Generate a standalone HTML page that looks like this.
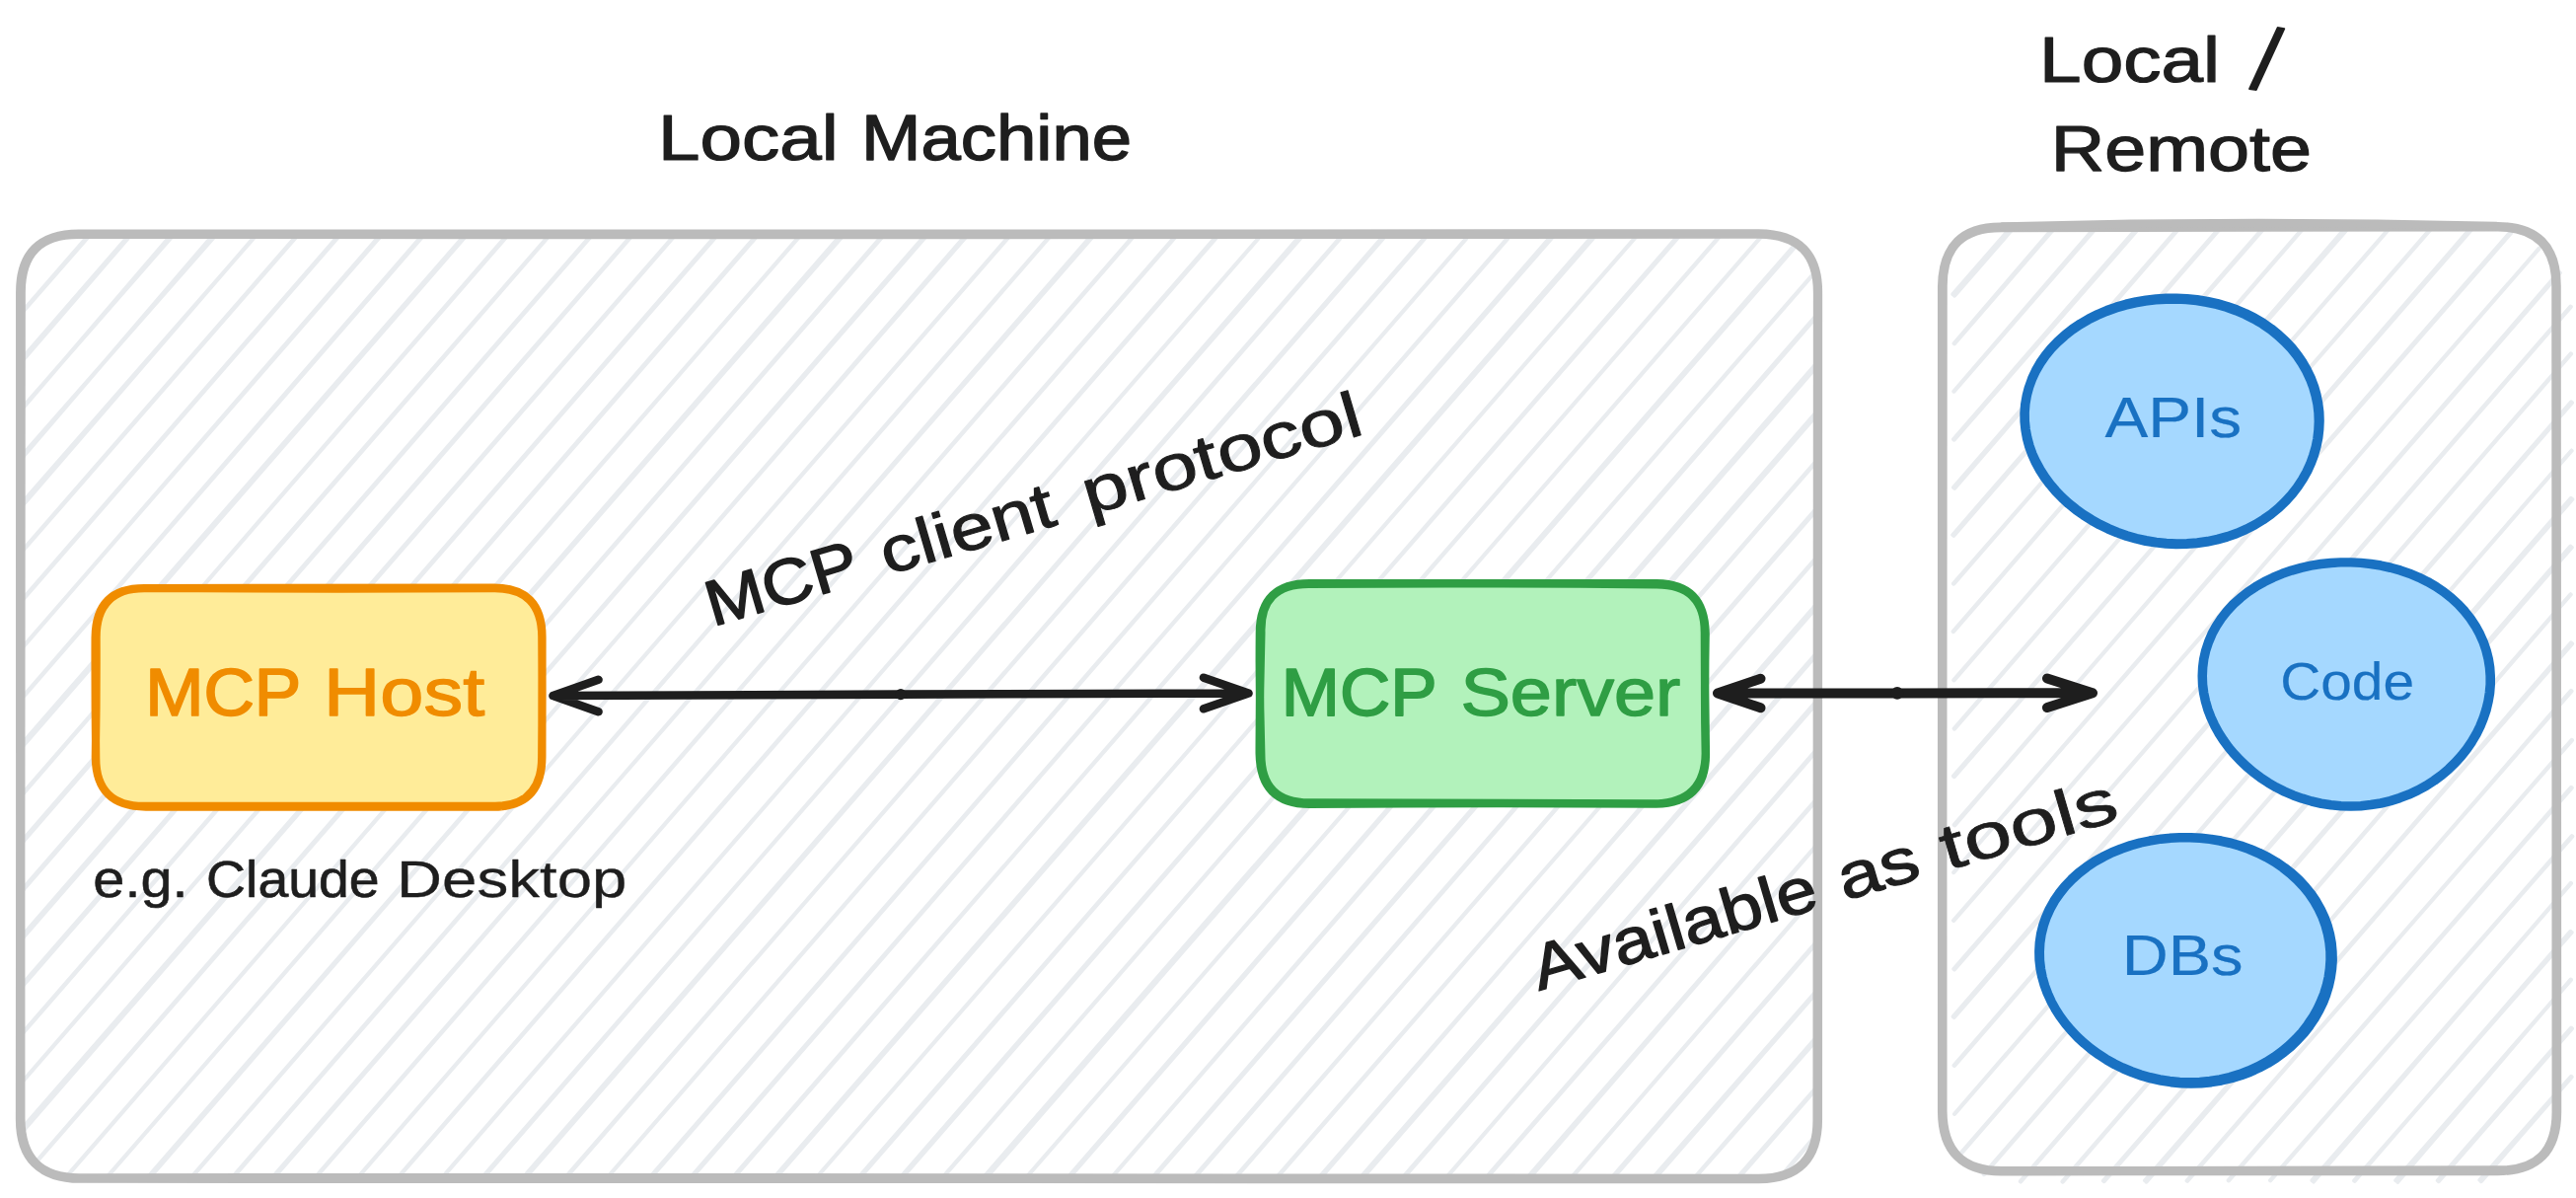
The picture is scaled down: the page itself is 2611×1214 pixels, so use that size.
<!DOCTYPE html><html><head><meta charset="utf-8"><title>MCP diagram</title>
<style>html,body{margin:0;padding:0;background:#fff}svg{display:block}text{font-family:"Liberation Sans",sans-serif;stroke-linejoin:round}</style></head><body>
<svg width="2611" height="1214" viewBox="0 0 2611 1214">
<rect width="100%" height="100%" fill="#fff"/>
<defs>
<clipPath id="cl"><path d="M81.0 237.0H1782.5Q1842.5 237.0 1842.5 297.0V1134.0Q1842.5 1194.0 1782.5 1194.0H81.0Q21.0 1194.0 21.0 1134.0V297.0Q21.0 237.0 81.0 237.0Z"/></clipPath>
<clipPath id="cr"><path d="M2039.0 233.0H2547.0Q2607.0 233.0 2607.0 293.0V1138.0Q2607.0 1198.0 2547.0 1198.0H2039.0Q1979.0 1198.0 1979.0 1138.0V293.0Q1979.0 233.0 2039.0 233.0Z"/></clipPath>
</defs>
<path d="M7.2 283.4L62.6 222.5 M8.4 284.5L61.4 221.5 M7.9 332.8L104.2 221.8 M8.2 333.1L104.9 222.4 M7.1 380.9L145.8 221.1 M8.5 382.2L146.6 221.8 M8.4 430.8L188.1 221.1 M7.8 430.3L189.6 222.3 M7.3 478.7L232.4 222.7 M8.7 479.9L230.6 221.1 M6.9 527.1L274.0 222.0 M8.7 528.7L273.7 221.7 M7.3 576.2L316.2 221.8 M7.0 575.9L315.8 221.4 M7.8 625.4L358.7 221.9 M7.4 625.0L358.2 221.4 M7.3 673.8L401.0 221.8 M7.5 673.9L400.2 221.1 M8.5 723.6L443.6 222.0 M8.2 723.3L442.9 221.4 M8.8 772.7L486.6 222.5 M7.1 771.2L485.6 221.6 M8.3 821.0L528.7 222.3 M8.7 821.3L528.2 221.8 M8.5 869.9L571.1 222.2 M7.5 869.0L570.9 222.1 M8.6 918.8L613.8 222.5 M7.9 918.2L613.3 222.1 M7.0 966.1L655.0 221.5 M8.5 967.4L655.4 221.8 M7.2 1015.2L698.0 222.0 M8.3 1016.1L698.3 222.2 M7.6 1064.3L740.2 221.8 M7.9 1064.5L740.9 222.4 M7.9 1113.3L782.5 221.7 M7.9 1113.2L781.8 221.1 M7.0 1161.3L825.5 222.3 M8.8 1162.9L825.3 222.1 M9.2 1208.9L866.9 221.3 M9.4 1209.1L868.5 222.7 M52.3 1209.6L910.0 222.0 M52.5 1209.7L909.4 221.4 M94.2 1209.1L953.2 222.7 M94.3 1209.2L952.2 221.8 M136.1 1208.7L994.8 222.0 M137.5 1209.9L993.8 221.1 M179.5 1209.6L1037.8 222.5 M179.7 1209.8L1037.6 222.3 M222.0 1209.6L1079.6 221.9 M221.5 1209.2L1079.4 221.8 M262.9 1208.3L1122.7 222.5 M263.9 1209.2L1121.3 221.4 M306.2 1209.1L1164.3 221.9 M305.9 1208.8L1164.0 221.6 M348.7 1209.2L1207.0 222.1 M348.8 1209.3L1206.6 221.8 M390.1 1208.3L1248.6 221.4 M390.3 1208.5L1249.3 222.0 M434.1 1209.7L1292.1 222.4 M434.0 1209.6L1292.1 222.4 M475.3 1208.7L1334.6 222.5 M476.1 1209.4L1333.1 221.2 M517.2 1208.3L1375.4 221.1 M518.7 1209.5L1375.8 221.5 M559.8 1208.4L1419.0 222.1 M560.3 1208.8L1417.9 221.2 M602.3 1208.5L1461.2 222.0 M602.3 1208.5L1460.7 221.5 M645.8 1209.5L1503.4 221.8 M645.0 1208.8L1503.5 221.9 M686.8 1208.3L1545.7 221.7 M687.6 1209.0L1545.3 221.4 M729.4 1208.4L1589.1 222.6 M730.2 1209.1L1587.8 221.4 M772.8 1209.3L1631.4 222.4 M771.6 1208.3L1629.8 221.1 M814.3 1208.5L1673.6 222.3 M814.3 1208.5L1673.5 222.3 M857.7 1209.4L1715.6 222.0 M856.8 1208.6L1716.5 222.7 M900.4 1209.6L1758.0 221.9 M899.2 1208.6L1758.2 222.2 M942.0 1208.9L1800.5 222.0 M941.8 1208.8L1800.6 222.1 M983.7 1208.3L1842.3 221.6 M985.5 1209.9L1843.5 222.5 M1026.6 1208.8L1856.3 256.5 M1026.6 1208.8L1856.5 256.6 M1069.9 1209.5L1855.5 304.5 M1068.9 1208.7L1854.7 303.8 M1112.5 1209.7L1854.7 352.6 M1112.4 1209.6L1856.5 354.2 M1154.3 1209.2L1855.0 401.6 M1154.9 1209.7L1856.6 403.0 M1197.0 1209.4L1855.6 451.0 M1196.3 1208.9L1855.3 450.7 M1238.4 1208.6L1856.0 500.0 M1238.9 1209.0L1855.0 499.2 M1280.6 1208.4L1855.9 548.8 M1281.0 1208.7L1855.6 548.5 M1323.4 1208.8L1856.4 597.9 M1324.6 1209.8L1854.7 596.5 M1365.6 1208.6L1855.3 645.8 M1367.1 1209.9L1856.2 646.5 M1408.3 1208.8L1855.1 694.4 M1408.9 1209.4L1856.3 695.4 M1451.8 1209.8L1855.3 743.4 M1451.7 1209.7L1856.0 743.9 M1493.4 1209.1L1856.6 793.2 M1492.9 1208.6L1856.1 792.8 M1535.0 1208.4L1855.0 840.6 M1536.6 1209.8L1855.1 840.7 M1578.7 1209.5L1855.8 890.1 M1578.9 1209.7L1855.4 889.7 M1620.3 1208.8L1855.2 938.4 M1621.3 1209.7L1855.8 938.9 M1663.9 1209.9L1856.4 988.2 M1662.3 1208.5L1855.7 987.6 M1704.6 1208.4L1854.7 1035.5 M1704.6 1208.4L1856.3 1036.9 M1748.4 1209.6L1856.3 1085.6 M1747.5 1208.8L1855.8 1085.2 M1790.7 1209.6L1855.4 1133.6 M1790.3 1209.2L1855.1 1133.4" stroke="#e9ecef" stroke-width="4.10" fill="none" stroke-linecap="round" clip-path="url(#cl)"/>
<path d="M80.9 237.1Q932.0 236.5 1783.0 237.0Q1843.1 237.6 1842.5 297.1Q1841.9 715.6 1842.1 1134.0Q1842.7 1194.1 1782.7 1194.4Q931.6 1193.3 80.5 1193.8Q20.6 1193.4 20.5 1134.4Q20.8 715.4 21.2 296.5Q21.0 236.5 80.9 237.1ZM80.9 237.4Q931.7 237.9 1782.5 237.2Q1842.8 236.9 1842.5 297.2Q1842.4 715.5 1842.4 1133.7Q1842.9 1193.9 1783.1 1194.6Q932.3 1195.2 81.4 1194.2Q21.5 1194.4 20.8 1133.7Q20.6 715.1 20.7 296.5Q20.4 236.7 80.9 237.4Z" fill="none" stroke="#bbbbbb" stroke-width="9.3" stroke-linejoin="round" stroke-linecap="round"/>
<path d="M1981.1 299.7L2040.8 231.0 M1979.4 298.2L2039.1 229.5 M1980.9 348.3L2082.7 230.8 M1980.6 348.0L2081.9 230.0 M1980.5 396.7L2125.1 230.3 M1980.4 396.6L2124.2 229.5 M1980.1 445.1L2167.0 230.0 M1980.7 445.6L2168.2 231.0 M1981.1 494.8L2209.6 230.3 M1980.1 493.9L2209.1 229.9 M1979.3 542.0L2250.9 229.6 M1980.2 542.8L2251.5 230.1 M1980.0 591.4L2295.3 230.8 M1980.3 591.6L2294.6 230.2 M1979.7 639.9L2335.9 229.4 M1979.9 640.1L2336.1 229.6 M1980.3 689.2L2380.1 231.1 M1980.6 689.4L2378.5 229.7 M1981.0 738.6L2422.4 230.5 M1980.7 738.3L2422.6 230.7 M1980.8 787.1L2464.7 230.6 M1980.0 786.4L2465.0 230.9 M1981.2 836.3L2505.7 229.6 M1980.7 835.9L2506.8 230.6 M1980.2 884.2L2544.5 235.2 M1980.2 884.2L2545.3 235.9 M1980.3 933.0L2573.6 251.7 M1980.0 932.8L2573.7 251.8 M1981.0 982.5L2593.9 275.7 M1980.4 981.9L2594.8 276.5 M1980.7 1031.0L2605.8 310.9 M1979.7 1030.1L2605.5 310.7 M1980.6 1079.7L2605.8 358.4 M1981.0 1080.0L2606.0 358.6 M1981.1 1128.8L2606.1 407.4 M1981.1 1128.9L2606.9 408.1 M1988.1 1167.9L2606.5 456.6 M1988.4 1168.1L2606.6 456.7 M2010.7 1189.9L2605.9 504.8 M2011.1 1190.2L2607.3 506.0 M2047.8 1197.2L2605.4 553.6 M2048.2 1197.5L2606.7 554.7 M2090.8 1197.7L2605.7 602.5 M2090.5 1197.4L2605.5 602.3 M2132.7 1197.2L2606.0 651.3 M2131.9 1196.5L2607.1 652.3 M2174.0 1196.3L2606.5 700.4 M2175.5 1197.6L2606.0 699.9 M2216.6 1196.5L2607.0 750.1 M2217.0 1196.8L2606.7 749.8 M2258.7 1196.2L2606.1 797.9 M2259.0 1196.4L2606.7 798.4 M2301.2 1196.3L2607.3 847.6 M2301.1 1196.2L2606.9 847.2 M2343.5 1196.2L2606.0 895.1 M2345.0 1197.5L2605.8 894.9 M2386.2 1196.4L2606.6 944.9 M2386.6 1196.8L2605.4 943.8 M2430.2 1197.8L2605.7 992.6 M2428.3 1196.2L2606.0 992.9 M2471.8 1197.2L2606.9 1042.3 M2470.8 1196.3L2606.1 1041.6 M2513.4 1195.8L2606.1 1090.9 M2514.9 1197.1L2606.6 1091.4" stroke="#e9ecef" stroke-width="4.10" fill="none" stroke-linecap="round"/>
<path d="M2029.0 230.2Q2280.3 229.2 2531.7 229.6Q2591.0 230.4 2590.9 289.8Q2591.7 708.4 2591.2 1126.9Q2591.0 1186.7 2531.7 1186.6Q2280.4 1186.7 2029.1 1186.7Q1968.8 1186.4 1968.6 1126.4Q1967.9 708.5 1968.6 290.5Q1969.4 229.4 2029.0 230.2ZM2029.6 230.5Q2280.3 230.5 2531.0 229.9Q2591.4 229.4 2591.1 289.8Q2591.6 707.9 2591.6 1126.1Q2591.8 1187.1 2531.7 1186.0Q2280.2 1185.8 2028.6 1186.9Q1969.6 1186.7 1968.9 1126.4Q1968.6 708.2 1969.1 290.0Q1968.8 229.8 2029.6 230.5Z" fill="none" stroke="#bbbbbb" stroke-width="9.3" stroke-linejoin="round" stroke-linecap="round"/>
<path d="M2030 229.5Q2280 223 2530 229" fill="none" stroke="#bbbbbb" stroke-width="8.5" stroke-linecap="round"/>
<path d="M147.1 595.7H499.7Q549.7 595.7 549.7 645.7V767.3Q549.7 817.3 499.7 817.3H147.1Q97.1 817.3 97.1 767.3V645.7Q97.1 595.7 147.1 595.7Z" fill="#ffec99"/>
<path d="M146.8 596.0Q323.4 597.0 500.0 596.2Q549.0 595.4 549.3 645.3Q549.8 706.1 549.2 766.9Q549.2 817.8 500.0 816.8Q323.6 816.4 147.1 816.9Q97.5 817.7 96.8 767.2Q97.9 706.5 97.6 645.9Q97.6 596.0 146.8 596.0ZM147.1 596.1Q323.4 595.1 499.8 595.6Q549.6 595.2 549.5 645.6Q549.5 706.2 549.4 766.8Q549.3 817.3 500.1 817.7Q324.0 817.1 147.8 817.6Q96.8 817.2 97.2 767.6Q96.4 706.8 96.6 645.9Q97.2 595.6 147.1 596.1Z" fill="none" stroke="#f08c00" stroke-width="8.2" stroke-linejoin="round" stroke-linecap="round"/>
<path d="M1327.5 591.3H1678.4Q1728.4 591.3 1728.4 641.3V764.2Q1728.4 814.2 1678.4 814.2H1327.5Q1277.5 814.2 1277.5 764.2V641.3Q1277.5 591.3 1327.5 591.3Z" fill="#b2f2bb"/>
<path d="M1326.7 591.7Q1502.7 590.8 1678.7 592.2Q1727.9 591.9 1727.9 640.8Q1727.9 702.7 1728.9 764.5Q1728.7 813.5 1678.0 814.6Q1502.6 813.4 1327.3 814.8Q1277.6 814.5 1276.7 763.6Q1276.6 702.3 1278.3 641.0Q1276.8 591.6 1326.7 591.7ZM1328.5 591.1Q1503.9 591.9 1679.4 591.2Q1727.8 591.9 1728.6 642.0Q1727.5 702.7 1728.8 763.4Q1728.4 813.4 1678.6 814.5Q1502.7 814.0 1326.9 813.4Q1278.1 813.4 1278.2 764.2Q1276.3 702.7 1276.9 641.2Q1277.1 590.4 1328.5 591.1Z" fill="none" stroke="#2f9e44" stroke-width="8.4" stroke-linejoin="round" stroke-linecap="round"/>
<path d="M2350.6 426.9L2350.2 435.6L2349.2 444.3L2347.5 452.9L2345.0 461.3L2342.0 469.7L2338.2 477.8L2333.8 485.7L2328.7 493.4L2323.0 500.8L2316.7 507.8L2309.8 514.4L2302.3 520.6L2294.2 526.3L2285.7 531.5L2276.7 536.2L2267.3 540.2L2257.6 543.6L2247.6 546.4L2237.4 548.5L2227.1 550.0L2216.7 550.8L2206.2 551.0L2195.8 550.5L2185.6 549.4L2175.5 547.8L2165.5 545.5L2155.9 542.7L2146.5 539.4L2137.4 535.6L2128.7 531.4L2120.3 526.7L2112.3 521.6L2104.6 516.1L2097.4 510.3L2090.7 504.1L2084.4 497.6L2078.5 490.7L2073.2 483.6L2068.4 476.1L2064.2 468.4L2060.6 460.5L2057.6 452.3L2055.3 444.0L2053.7 435.5L2052.9 426.9L2052.8 418.3L2053.5 409.6L2054.9 401.0L2057.2 392.5L2060.2 384.2L2064.0 376.1L2068.5 368.2L2073.8 360.6L2079.7 353.4L2086.2 346.6L2093.3 340.2L2100.9 334.3L2109.0 328.8L2117.6 323.8L2126.5 319.3L2135.8 315.4L2145.3 312.0L2155.1 309.1L2165.1 306.8L2175.2 305.0L2185.5 303.8L2195.8 303.1L2206.2 303.0L2216.6 303.5L2226.9 304.5L2237.1 306.2L2247.2 308.4L2257.1 311.2L2266.7 314.6L2276.1 318.6L2285.0 323.1L2293.6 328.2L2301.7 333.8L2309.3 339.8L2316.3 346.3L2322.7 353.2L2328.5 360.5L2333.7 368.1L2338.2 376.0L2342.0 384.2L2345.1 392.5L2347.5 401.0L2349.2 409.6L2350.3 418.2Z" fill="#a5d8ff"/>
<path d="M2350.3 427.2L2349.9 435.9L2348.9 444.6L2347.2 453.2L2344.7 461.7L2341.7 470.0L2337.9 478.2L2333.5 486.1L2328.4 493.8L2322.7 501.2L2316.3 508.2L2309.4 514.9L2301.9 521.1L2293.8 526.8L2285.3 532.0L2276.3 536.6L2266.9 540.7L2257.2 544.1L2247.2 546.9L2236.9 549.1L2226.6 550.5L2216.1 551.3L2205.7 551.5L2195.3 551.0L2185.0 549.9L2174.9 548.3L2165.0 546.0L2155.3 543.2L2145.9 539.9L2136.8 536.1L2128.0 531.8L2119.6 527.1L2111.6 522.0L2104.0 516.6L2096.7 510.7L2090.0 504.5L2083.6 498.0L2077.8 491.1L2072.4 484.0L2067.6 476.5L2063.4 468.8L2059.8 460.8L2056.8 452.7L2054.5 444.3L2053.0 435.8L2052.1 427.2L2052.0 418.6L2052.7 409.9L2054.2 401.3L2056.4 392.8L2059.5 384.4L2063.2 376.3L2067.8 368.4L2073.0 360.8L2078.9 353.6L2085.5 346.8L2092.6 340.4L2100.2 334.4L2108.3 328.9L2116.9 323.9L2125.8 319.5L2135.1 315.5L2144.7 312.1L2154.5 309.2L2164.5 306.9L2174.6 305.1L2184.9 303.9L2195.3 303.2L2205.7 303.1L2216.1 303.6L2226.4 304.6L2236.7 306.3L2246.8 308.5L2256.7 311.3L2266.3 314.7L2275.7 318.7L2284.6 323.3L2293.2 328.3L2301.3 333.9L2308.9 340.0L2315.9 346.5L2322.4 353.4L2328.2 360.7L2333.4 368.3L2337.9 376.2L2341.7 384.4L2344.8 392.7L2347.2 401.2L2349.0 409.8L2350.0 418.5ZM2351.1 426.5L2350.7 435.2L2349.7 443.9L2347.9 452.5L2345.5 461.0L2342.4 469.4L2338.7 477.5L2334.2 485.5L2329.1 493.2L2323.4 500.6L2317.1 507.6L2310.1 514.3L2302.6 520.5L2294.5 526.2L2286.0 531.4L2276.9 536.1L2267.5 540.2L2257.8 543.6L2247.7 546.4L2237.5 548.5L2227.1 550.0L2216.7 550.8L2206.2 551.0L2195.8 550.5L2185.5 549.4L2175.3 547.7L2165.4 545.5L2155.7 542.7L2146.3 539.3L2137.2 535.5L2128.4 531.3L2120.0 526.6L2111.9 521.5L2104.3 516.0L2097.0 510.1L2090.2 503.9L2083.9 497.4L2078.0 490.5L2072.7 483.3L2067.9 475.8L2063.7 468.1L2060.0 460.1L2057.1 452.0L2054.8 443.6L2053.2 435.1L2052.3 426.5L2052.2 417.8L2052.9 409.1L2054.4 400.5L2056.7 392.0L2059.7 383.6L2063.5 375.4L2068.0 367.5L2073.3 360.0L2079.2 352.7L2085.7 345.9L2092.9 339.4L2100.5 333.5L2108.7 328.0L2117.2 323.0L2126.2 318.5L2135.5 314.5L2145.1 311.1L2154.9 308.2L2164.9 305.9L2175.1 304.1L2185.4 302.9L2195.8 302.2L2206.2 302.1L2216.6 302.6L2227.0 303.7L2237.2 305.3L2247.4 307.5L2257.3 310.4L2266.9 313.8L2276.3 317.8L2285.3 322.3L2293.9 327.4L2302.0 333.0L2309.6 339.1L2316.7 345.6L2323.1 352.5L2328.9 359.8L2334.1 367.5L2338.6 375.4L2342.5 383.6L2345.6 391.9L2348.0 400.4L2349.7 409.0L2350.8 417.7Z" fill="none" stroke="#1971c2" stroke-width="9.4" stroke-linejoin="round"/>
<path d="M2524.2 694.2L2523.4 702.9L2522.0 711.5L2519.9 720.0L2517.2 728.4L2513.8 736.6L2509.9 744.5L2505.4 752.3L2500.3 759.7L2494.7 766.9L2488.5 773.8L2481.8 780.3L2474.6 786.4L2466.9 792.1L2458.8 797.3L2450.2 802.0L2441.2 806.2L2431.9 809.8L2422.3 812.8L2412.4 815.1L2402.4 816.8L2392.3 817.8L2382.1 818.2L2371.9 817.9L2361.8 816.9L2351.9 815.4L2342.1 813.1L2332.6 810.4L2323.4 807.0L2314.5 803.2L2305.9 798.9L2297.7 794.1L2289.9 788.9L2282.5 783.4L2275.6 777.5L2269.0 771.2L2262.9 764.7L2257.2 757.8L2252.0 750.7L2247.3 743.3L2243.1 735.6L2239.4 727.7L2236.4 719.6L2233.9 711.3L2232.1 702.8L2231.1 694.2L2230.7 685.5L2231.1 676.8L2232.3 668.1L2234.3 659.4L2237.0 650.9L2240.6 642.6L2245.0 634.5L2250.1 626.8L2255.9 619.4L2262.4 612.5L2269.5 606.0L2277.2 600.0L2285.3 594.5L2293.9 589.5L2302.9 585.1L2312.2 581.3L2321.8 578.0L2331.5 575.3L2341.5 573.1L2351.5 571.5L2361.7 570.4L2371.9 569.8L2382.1 569.8L2392.3 570.3L2402.4 571.4L2412.5 573.0L2422.5 575.2L2432.2 577.9L2441.8 581.2L2451.1 585.0L2460.1 589.5L2468.7 594.4L2476.8 599.9L2484.4 606.0L2491.5 612.5L2498.0 619.5L2503.8 626.8L2508.9 634.5L2513.3 642.6L2517.0 650.9L2519.9 659.3L2522.1 668.0L2523.5 676.7L2524.2 685.4Z" fill="#a5d8ff"/>
<path d="M2524.1 693.6L2523.3 702.3L2521.9 710.9L2519.8 719.3L2517.1 727.6L2513.8 735.7L2509.9 743.7L2505.4 751.3L2500.3 758.8L2494.7 765.9L2488.6 772.7L2481.9 779.2L2474.8 785.3L2467.1 790.9L2459.0 796.1L2450.5 800.8L2441.6 805.0L2432.3 808.5L2422.8 811.5L2413.0 813.8L2403.0 815.5L2392.9 816.6L2382.8 816.9L2372.7 816.6L2362.6 815.7L2352.7 814.1L2343.0 811.9L2333.6 809.1L2324.4 805.8L2315.6 802.0L2307.0 797.7L2298.9 793.0L2291.2 787.8L2283.8 782.3L2276.9 776.4L2270.4 770.2L2264.3 763.7L2258.6 756.9L2253.5 749.8L2248.8 742.4L2244.6 734.8L2241.0 727.0L2237.9 718.9L2235.5 710.6L2233.7 702.2L2232.6 693.6L2232.3 685.0L2232.7 676.3L2233.8 667.6L2235.8 659.0L2238.6 650.6L2242.1 642.3L2246.5 634.3L2251.5 626.6L2257.3 619.3L2263.8 612.3L2270.9 605.9L2278.5 599.9L2286.6 594.5L2295.2 589.6L2304.1 585.2L2313.3 581.4L2322.8 578.1L2332.5 575.4L2342.4 573.2L2352.4 571.6L2362.5 570.5L2372.6 569.9L2382.8 569.9L2392.9 570.4L2403.0 571.5L2413.1 573.1L2422.9 575.3L2432.7 578.0L2442.2 581.2L2451.4 585.1L2460.3 589.5L2468.9 594.4L2477.0 599.9L2484.5 605.9L2491.6 612.4L2498.0 619.3L2503.8 626.6L2508.9 634.3L2513.3 642.3L2517.0 650.5L2519.9 659.0L2522.0 667.5L2523.4 676.2L2524.1 684.9ZM2524.3 693.7L2523.6 702.4L2522.1 710.9L2520.1 719.4L2517.3 727.7L2514.0 735.9L2510.1 743.8L2505.6 751.5L2500.6 758.9L2494.9 766.1L2488.8 772.9L2482.1 779.4L2475.0 785.5L2467.3 791.1L2459.2 796.3L2450.7 801.0L2441.7 805.2L2432.4 808.7L2422.9 811.7L2413.1 814.1L2403.1 815.7L2393.0 816.8L2382.8 817.1L2372.7 816.8L2362.7 815.9L2352.8 814.3L2343.1 812.1L2333.6 809.3L2324.4 806.0L2315.5 802.2L2307.0 797.9L2298.9 793.1L2291.1 788.0L2283.8 782.5L2276.8 776.6L2270.3 770.4L2264.2 763.9L2258.6 757.0L2253.4 749.9L2248.7 742.6L2244.5 734.9L2240.9 727.1L2237.8 719.0L2235.4 710.7L2233.6 702.3L2232.5 693.7L2232.2 685.0L2232.6 676.3L2233.7 667.7L2235.7 659.1L2238.5 650.6L2242.0 642.3L2246.4 634.3L2251.5 626.6L2257.3 619.2L2263.7 612.3L2270.8 605.9L2278.4 599.9L2286.6 594.4L2295.1 589.5L2304.1 585.1L2313.3 581.3L2322.8 578.0L2332.5 575.3L2342.4 573.1L2352.4 571.5L2362.5 570.4L2372.7 569.9L2382.9 569.9L2393.0 570.4L2403.1 571.4L2413.2 573.0L2423.1 575.2L2432.8 577.9L2442.3 581.2L2451.6 585.0L2460.5 589.4L2469.0 594.4L2477.1 599.9L2484.7 605.9L2491.8 612.4L2498.2 619.3L2504.0 626.6L2509.1 634.3L2513.5 642.3L2517.2 650.6L2520.1 659.0L2522.3 667.6L2523.7 676.3L2524.3 685.0Z" fill="none" stroke="#1971c2" stroke-width="9.4" stroke-linejoin="round"/>
<path d="M2362.8 972.5L2362.2 981.2L2361.0 989.8L2359.0 998.4L2356.5 1006.8L2353.2 1015.0L2349.4 1023.1L2344.9 1030.9L2339.8 1038.4L2334.1 1045.7L2327.9 1052.6L2321.1 1059.2L2313.8 1065.3L2306.0 1071.0L2297.7 1076.2L2289.0 1080.9L2279.9 1085.0L2270.4 1088.5L2260.7 1091.5L2250.8 1093.7L2240.6 1095.4L2230.4 1096.4L2220.2 1096.7L2209.9 1096.4L2199.8 1095.4L2189.7 1093.8L2179.9 1091.7L2170.3 1088.9L2161.0 1085.7L2152.0 1081.9L2143.3 1077.6L2135.0 1072.9L2127.0 1067.8L2119.5 1062.3L2112.4 1056.4L2105.7 1050.1L2099.4 1043.6L2093.6 1036.7L2088.3 1029.5L2083.5 1022.0L2079.3 1014.3L2075.6 1006.3L2072.6 998.1L2070.2 989.7L2068.5 981.1L2067.5 972.5L2067.3 963.7L2067.8 955.0L2069.2 946.2L2071.3 937.6L2074.2 929.1L2077.9 920.8L2082.4 912.8L2087.6 905.1L2093.5 897.8L2100.1 890.9L2107.3 884.4L2115.0 878.4L2123.2 873.0L2131.8 868.1L2140.8 863.7L2150.1 859.9L2159.7 856.6L2169.5 853.9L2179.4 851.7L2189.5 850.1L2199.7 849.0L2209.9 848.5L2220.1 848.5L2230.4 849.1L2240.5 850.2L2250.6 851.8L2260.5 854.1L2270.2 856.8L2279.7 860.2L2289.0 864.1L2297.9 868.5L2306.4 873.5L2314.5 879.0L2322.1 885.0L2329.1 891.4L2335.6 898.3L2341.4 905.6L2346.6 913.3L2351.1 921.2L2354.9 929.4L2357.9 937.8L2360.2 946.4L2361.8 955.0L2362.7 963.7Z" fill="#a5d8ff"/>
<path d="M2364.2 973.2L2363.6 981.9L2362.3 990.6L2360.4 999.2L2357.8 1007.7L2354.6 1016.0L2350.7 1024.0L2346.2 1031.9L2341.1 1039.5L2335.4 1046.8L2329.1 1053.7L2322.3 1060.3L2314.9 1066.5L2307.1 1072.2L2298.8 1077.4L2290.0 1082.1L2280.9 1086.3L2271.4 1089.8L2261.6 1092.7L2251.6 1095.0L2241.4 1096.7L2231.2 1097.7L2220.9 1098.0L2210.6 1097.7L2200.4 1096.7L2190.3 1095.1L2180.4 1093.0L2170.8 1090.2L2161.4 1086.9L2152.3 1083.1L2143.6 1078.8L2135.3 1074.1L2127.3 1068.9L2119.7 1063.4L2112.6 1057.5L2105.8 1051.2L2099.5 1044.6L2093.7 1037.7L2088.4 1030.5L2083.6 1023.0L2079.3 1015.2L2075.7 1007.2L2072.6 998.9L2070.2 990.5L2068.5 981.9L2067.5 973.2L2067.3 964.4L2067.8 955.6L2069.1 946.8L2071.3 938.1L2074.2 929.6L2077.9 921.3L2082.4 913.2L2087.7 905.5L2093.6 898.1L2100.2 891.2L2107.4 884.7L2115.2 878.7L2123.4 873.2L2132.1 868.3L2141.1 863.9L2150.5 860.1L2160.1 856.8L2169.9 854.0L2180.0 851.9L2190.1 850.2L2200.3 849.2L2210.6 848.6L2220.8 848.6L2231.1 849.2L2241.3 850.3L2251.4 852.0L2261.4 854.2L2271.2 857.0L2280.7 860.4L2290.0 864.3L2299.0 868.7L2307.5 873.7L2315.6 879.3L2323.3 885.3L2330.4 891.8L2336.8 898.7L2342.7 906.0L2347.9 913.7L2352.4 921.7L2356.2 929.9L2359.3 938.4L2361.6 947.0L2363.2 955.7L2364.0 964.4ZM2362.0 972.6L2361.4 981.3L2360.2 990.0L2358.3 998.5L2355.7 1006.9L2352.4 1015.1L2348.6 1023.2L2344.1 1031.0L2339.0 1038.5L2333.4 1045.8L2327.1 1052.7L2320.4 1059.2L2313.0 1065.4L2305.2 1071.0L2297.0 1076.2L2288.3 1080.9L2279.2 1085.0L2269.7 1088.6L2260.0 1091.5L2250.1 1093.8L2239.9 1095.4L2229.7 1096.4L2219.5 1096.7L2209.2 1096.4L2199.1 1095.5L2189.1 1093.9L2179.3 1091.7L2169.7 1089.0L2160.4 1085.7L2151.4 1081.9L2142.7 1077.7L2134.4 1073.0L2126.4 1067.8L2118.9 1062.3L2111.8 1056.4L2105.1 1050.2L2098.8 1043.6L2093.1 1036.8L2087.8 1029.6L2083.0 1022.1L2078.8 1014.4L2075.1 1006.4L2072.1 998.2L2069.7 989.8L2068.0 981.3L2067.0 972.6L2066.8 963.9L2067.3 955.1L2068.6 946.4L2070.7 937.8L2073.7 929.3L2077.4 921.0L2081.9 913.0L2087.1 905.3L2093.0 898.0L2099.5 891.1L2106.7 884.6L2114.4 878.7L2122.6 873.2L2131.2 868.3L2140.2 863.9L2149.5 860.1L2159.1 856.8L2168.9 854.1L2178.8 852.0L2188.9 850.4L2199.0 849.3L2209.2 848.8L2219.5 848.8L2229.7 849.3L2239.8 850.4L2249.9 852.1L2259.8 854.3L2269.5 857.1L2279.0 860.4L2288.3 864.3L2297.2 868.8L2305.7 873.7L2313.7 879.2L2321.3 885.2L2328.4 891.7L2334.8 898.6L2340.7 905.8L2345.8 913.5L2350.3 921.4L2354.1 929.6L2357.1 938.0L2359.4 946.5L2361.0 955.2L2361.9 963.9Z" fill="none" stroke="#1971c2" stroke-width="9.4" stroke-linejoin="round"/>
<path d="M560.5 705.0L913.0 703.6L1265.5 702.5M606.5 688.8L560.5 705.0L606.5 721.2M1220.0 686.7L1265.5 702.5L1220.0 718.3" fill="none" stroke="#1e1e1e" stroke-width="8.6" stroke-linecap="round" stroke-linejoin="round"/>
<circle cx="913.0" cy="703.6" r="5.6" fill="#1e1e1e"/>
<path d="M1741.0 702.5L1923.0 702.4L2121.0 702.3M1784.5 687.7L1741.0 702.5L1784.5 717.3M2075.0 687.5L2121.0 702.3L2075.0 717.1" fill="none" stroke="#1e1e1e" stroke-width="10.0" stroke-linecap="round" stroke-linejoin="round"/>
<circle cx="1923.0" cy="702.4" r="6.3" fill="#1e1e1e"/>
<text transform="translate(0 162.00)" font-size="65.0" fill="#1e1e1e" stroke="#1e1e1e"><tspan x="667.09" textLength="182.74" lengthAdjust="spacingAndGlyphs" stroke-width="1.21">Local</tspan> <tspan x="873.00" textLength="274.06" lengthAdjust="spacingAndGlyphs" stroke-width="1.40">Machine</tspan></text>
<text transform="translate(0 83.40)" font-size="65.0" fill="#1e1e1e" stroke="#1e1e1e"><tspan x="2067.07" textLength="183.06" lengthAdjust="spacingAndGlyphs" stroke-width="1.20">Local</tspan></text>
<text transform="translate(2297.70 59.50) rotate(9.50) translate(-12.60 32.17)" font-size="90.0" fill="#1e1e1e" stroke="#1e1e1e" stroke-width="1.60">/</text>
<text transform="translate(0 173.00)" font-size="65.0" fill="#1e1e1e" stroke="#1e1e1e"><tspan x="2078.66" textLength="264.36" lengthAdjust="spacingAndGlyphs" stroke-width="1.25">Remote</tspan></text>
<text transform="translate(0 725.30)" font-size="68.0" fill="#f08c00" stroke="#f08c00"><tspan x="147.15" textLength="156.94" lengthAdjust="spacingAndGlyphs" stroke-width="1.74">MCP</tspan> <tspan x="328.05" textLength="163.14" lengthAdjust="spacingAndGlyphs" stroke-width="1.29">Host</tspan></text>
<text transform="translate(0 724.80)" font-size="68.0" fill="#2f9e44" stroke="#2f9e44"><tspan x="1298.87" textLength="156.52" lengthAdjust="spacingAndGlyphs" stroke-width="1.75">MCP</tspan> <tspan x="1480.40" textLength="222.85" lengthAdjust="spacingAndGlyphs" stroke-width="1.47">Server</tspan></text>
<text transform="translate(0 908.90)" font-size="51.0" fill="#1e1e1e" stroke="#1e1e1e"><tspan x="94.39" textLength="96.17" lengthAdjust="spacingAndGlyphs" stroke-width="0.54">e.g.</tspan> <tspan x="209.13" textLength="175.51" lengthAdjust="spacingAndGlyphs" stroke-width="0.65">Claude</tspan> <tspan x="402.11" textLength="233.25" lengthAdjust="spacingAndGlyphs" stroke-width="0.29">Desktop</tspan></text>
<text transform="translate(0 442.80)" font-size="57.0" fill="#1971c2" stroke="#1971c2"><tspan x="2133.40" textLength="138.82" lengthAdjust="spacingAndGlyphs" stroke-width="0.20">APIs</tspan></text>
<text transform="translate(0 708.90)" font-size="54.0" fill="#1971c2" stroke="#1971c2"><tspan x="2311.26" textLength="135.73" lengthAdjust="spacingAndGlyphs" stroke-width="0.20">Code</tspan></text>
<text transform="translate(0 987.60)" font-size="57.0" fill="#1971c2" stroke="#1971c2"><tspan x="2150.80" textLength="122.83" lengthAdjust="spacingAndGlyphs" stroke-width="0.20">DBs</tspan></text>
<text transform="translate(728.00 633.40) rotate(-16.47)" font-size="65.0" fill="#1e1e1e" stroke="#1e1e1e"><tspan x="-5.67" textLength="157.37" lengthAdjust="spacingAndGlyphs" stroke-width="1.49">MCP</tspan> <tspan x="178.59" textLength="181.45" lengthAdjust="spacingAndGlyphs" stroke-width="1.15">client</tspan> <tspan x="392.16" textLength="292.41" lengthAdjust="spacingAndGlyphs" stroke-width="0.94">protocol</tspan></text>
<text transform="translate(1560.00 1003.90) rotate(-16.40)" font-size="65.0" fill="#1e1e1e" stroke="#1e1e1e"><tspan x="0.00" textLength="298.04" lengthAdjust="spacingAndGlyphs" stroke-width="1.34">Available</tspan> <tspan x="322.54" textLength="83.42" lengthAdjust="spacingAndGlyphs" stroke-width="1.09">as</tspan> <tspan x="431.19" textLength="184.06" lengthAdjust="spacingAndGlyphs" stroke-width="0.73">tools</tspan></text>
</svg></body></html>
